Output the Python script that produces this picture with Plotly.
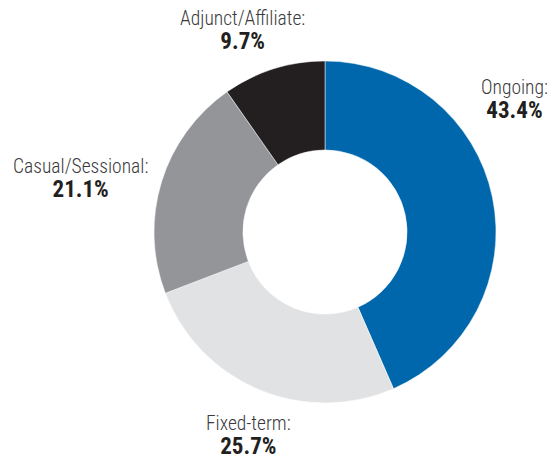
import plotly.graph_objects as go

# Employment type shares (%)
categories = ["Ongoing", "Fixed-term", "Casual/Sessional", "Adjunct/Affiliate"]
shares = [43.4, 25.7, 21.1, 9.7]
colors = ["#0067ac", "#e1e2e4", "#939598", "#231f20"]

W, H = 556, 462
FONT = "Roboto Condensed, Liberation Sans Narrow, sans-serif"

# Label block centres in pixels (midway between the category line and the value line)
label_pos = {
    "Ongoing": (514, 100),
    "Fixed-term": (248, 436),
    "Casual/Sessional": (80, 179),
    "Adjunct/Affiliate": (242, 31),
}

# Donut geometry in pixels
cx, cy, r = 325, 232, 171

fig = go.Figure(
    go.Pie(
        labels=categories,
        values=shares,
        marker=dict(colors=colors, line=dict(color="white", width=0.5)),
        hole=0.48,
        sort=False,
        direction="clockwise",
        rotation=0,
        textinfo="none",
        hoverinfo="label+percent",
        domain=dict(
            x=[(cx - r) / W, (cx + r) / W],
            y=[(H - cy - r) / H, (H - cy + r) / H],
        ),
    )
)

annotations = []
for cat, val in zip(categories, shares):
    px, py = label_pos[cat]
    text = (
        f"<span style='font-size:19.5px'>{cat}:</span><br>"
        f"<span style='font-size:23px;color:#231f20'><b>{val:.1f}%</b></span>"
    )
    annotations.append(dict(
        x=px / W, y=1 - py / H, xref="paper", yref="paper",
        text=text, showarrow=False, xanchor="center", yanchor="middle",
        align="center",
        # base size sets the line spacing between the two lines
        font=dict(family=FONT, size=18.5, color="#3a3a3c", weight=300),
    ))

fig.update_layout(
    width=W, height=H,
    margin=dict(l=0, r=0, t=0, b=0),
    paper_bgcolor="white", plot_bgcolor="white",
    showlegend=False,
    annotations=annotations,
)

fig.write_html("out.html")
